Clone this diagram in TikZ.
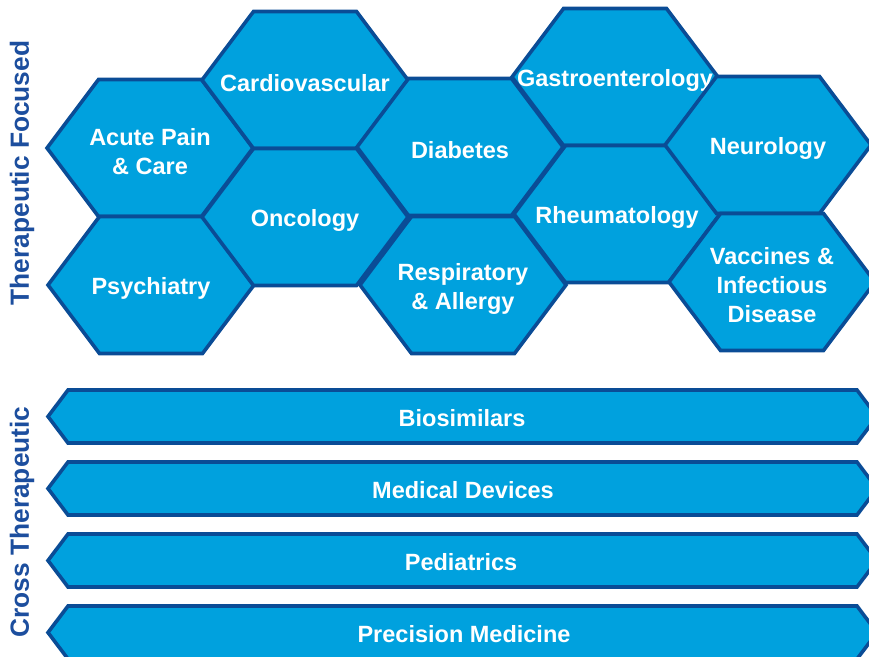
\documentclass[tikz,border=0pt]{standalone}
\usepackage{fontspec}
\setmainfont{Liberation Sans}
\definecolor{hexfill}{RGB}{0,161,222}
\definecolor{hexline}{RGB}{10,76,150}
\definecolor{labelblue}{RGB}{28,78,158}
\tikzset{
  cell/.style={fill=hexfill, draw=hexline, line width=3.6pt, line join=miter},
  celltext/.style={text=white, font=\bfseries\fontsize{23.5}{29}\selectfont, align=center, inner sep=0pt},
  sidelabel/.style={text=labelblue, font=\bfseries\fontsize{26.3}{30}\selectfont, rotate=90, inner sep=0pt}
}
\newcommand{\hexcell}[4]{%
  \path[cell] (#1-103,#2) -- (#1-51.5,#2-68.5) -- (#1+51.5,#2-68.5) -- (#1+103,#2)
    -- (#1+51.5,#2+68.5) -- (#1-51.5,#2+68.5) -- cycle;
  \node[celltext] (#3) at (#1,#2+3.5) {#4};
}
\newcommand{\barcell}[4]{%
  \path[cell] (68,#1) -- (857,#1) -- (877,#1+26.5) -- (857,#1+53) -- (68,#1+53) -- (48,#1+26.5) -- cycle;
  \node[celltext] (#2) at (#3,#1+28.5) {#4};
}
\begin{document}
\begin{tikzpicture}[x=1pt,y=-1pt]
\useasboundingbox (0,0) rectangle (869,656);
\clip (0,0) rectangle (869,656);
\hexcell{150}{148}{acute}{Acute Pain\\\& Care}
\hexcell{151}{285}{psych}{Psychiatry}
\hexcell{305}{80}{cardio}{Cardiovascular}
\hexcell{305}{217}{onco}{Oncology}
\hexcell{460}{147}{diab}{Diabetes}
\hexcell{463}{285}{resp}{Respiratory\\\& Allergy}
\hexcell{615}{77}{gastro}{Gastroenterology}
\hexcell{617}{214}{rheum}{Rheumatology}
\hexcell{768}{145}{neuro}{Neurology}
\hexcell{772}{282}{vacc}{Vaccines \&\\Infectious\\Disease}
\barcell{390}{bio}{462}{Biosimilars}
\barcell{462}{med}{463}{Medical Devices}
\barcell{534}{ped}{461}{Pediatrics}
\barcell{606}{prec}{464}{Precision Medicine}
\node[sidelabel] (tf) at (22,173) {Therapeutic Focused};
\node[sidelabel] (ct) at (22,522) {Cross Therapeutic};
\end{tikzpicture}
\end{document}
